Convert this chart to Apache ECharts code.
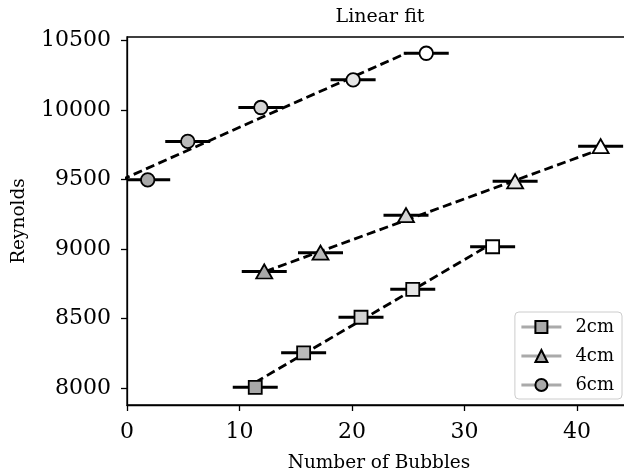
<!DOCTYPE html>
<html lang="en">
<head>
<meta charset="UTF-8">
<title>Linear fit</title>
<style>html,body{margin:0;padding:0;background:#fff}</style>
</head>
<body>
<div id="chart" style="width:624px;height:472px"></div>
<script src="https://cdn.jsdelivr.net/npm/echarts@6/dist/echarts.min.js"></script>
<script>
// values
let names=['2cm','4cm','6cm'];
let xTicks=[0,10,20,30,40];
let yTicks=[8000,8500,9000,9500,10000,10500];

let bubbles2=[11.4,15.7,20.8,25.4,32.5];
let reynolds2=[8005,8253,8509,8710,9016];
let bubbles4=[12.2,17.2,24.8,34.5,42.1];
let reynolds4=[8838,8973,9243,9486,9739];
let bubbles6=[1.84,5.4,11.9,20.1,26.6];
let reynolds6=[9497,9773,10017,10216,10407];
let xErr=2;

// ends of the dashed fit lines
let fitX2=[11.4,31.8], fitY2=[8040,9009];
let fitX4=[12.3,41.7], fitY4=[8838,9705];
let fitX6=[-0.5,24.8], fitY6=[9497,10407];

let fills=['#a8a8a8','#bababa','#d3d3d3','#e6e6e6','#ffffff'];
let symbols=['rect','triangle','circle'];
let sizes=[13,[16,14],13.5];
let font='"DejaVu Serif", serif';

window.onload=function () {
    let chart=echarts.init(document.getElementById('chart'));
    let groups=[
        {x:bubbles2,y:reynolds2,fx:fitX2,fy:fitY2},
        {x:bubbles4,y:reynolds4,fx:fitX4,fy:fitY4},
        {x:bubbles6,y:reynolds6,fx:fitX6,fy:fitY6}
    ];
    let series=[];
    groups.forEach((g,i)=>{
        // fit line
        series.push({
            type:'line',
            data:g.fx.map((x,k)=>[x,g.fy[k]]),
            symbol:'none',
            lineStyle:{color:'#000',width:2.8,type:[9,4.5]},
            z:2,
            silent:true
        });
        // horizontal error bars
        series.push({
            type:'custom',
            data:g.x.map((x,k)=>[x,g.y[k]]),
            renderItem:function (params,api) {
                let a=api.coord([api.value(0)-xErr,api.value(1)]);
                let b=api.coord([api.value(0)+xErr,api.value(1)]);
                return {
                    type:'line',
                    shape:{x1:a[0],y1:a[1],x2:b[0],y2:b[1]},
                    style:{stroke:'#000',lineWidth:3}
                };
            },
            clip:true,
            z:3,
            silent:true
        });
        // markers
        series.push({
            type:'scatter',
            data:g.x.map((x,k)=>({value:[x,g.y[k]],itemStyle:{color:fills[k]}})),
            symbol:symbols[i],
            symbolSize:sizes[i],
            itemStyle:{borderColor:'#000',borderWidth:1.8,opacity:1},
            z:4,
            silent:true
        });
        // legend entry
        series.push({
            name:names[i],
            type:'line',
            data:[],
            symbol:symbols[i],
            lineStyle:{color:'#aaaaaa',width:3},
            itemStyle:{color:'#a9a9a9',borderColor:'#000',borderWidth:1.8}
        });
    });

    let option={
        animation:false,
        title:{
            text:'Linear fit',
            left:380,
            top:8,
            padding:0,
            textAlign:'center',
            textStyle:{fontFamily:font,fontSize:19,fontWeight:'normal',color:'#000'}
        },
        legend:{
            data:names,
            orient:'vertical',
            right:2,
            top:312,
            itemWidth:40,
            itemHeight:15,
            itemGap:11,
            padding:[6,8,5,5],
            borderColor:'#cccccc',
            borderWidth:1,
            borderRadius:4,
            backgroundColor:'rgba(255,255,255,0.8)',
            lineStyle:{width:3},
            textStyle:{fontFamily:font,fontSize:18,color:'#000',padding:[0,0,0,9]}
        },
        grid:{
            left:127,
            top:37,
            right:-7,
            bottom:67,
            outerBoundsMode:'none',
            containLabel:false,
            show:true,
            borderColor:'#000',
            borderWidth:1.3
        },
        xAxis:{
            type:'value',
            min:0,
            max:44.8,
            name:'Number of Bubbles',
            nameLocation:'middle',
            nameGap:49,
            nameTextStyle:{fontFamily:font,fontSize:18.5,color:'#000'},
            axisLine:{show:true,lineStyle:{color:'#000',width:1.3}},
            axisTick:{show:true,length:6,lineStyle:{color:'#000',width:1.3},customValues:xTicks},
            axisLabel:{fontFamily:font,fontSize:22,color:'#000',margin:16,customValues:xTicks},
            splitLine:{show:false}
        },
        yAxis:{
            type:'value',
            min:7878,
            max:10524,
            name:'Reynolds',
            nameLocation:'middle',
            nameGap:98,
            nameTextStyle:{fontFamily:font,fontSize:18.5,color:'#000'},
            axisLine:{show:true,lineStyle:{color:'#000',width:1.3}},
            axisTick:{show:true,length:6,lineStyle:{color:'#000',width:1.3},customValues:yTicks},
            axisLabel:{fontFamily:font,fontSize:22,color:'#000',margin:16,customValues:yTicks,formatter:v=>String(v)},
            splitLine:{show:false}
        },
        series:series
    };
    chart.setOption(option);
};
</script>
</body>
</html>
